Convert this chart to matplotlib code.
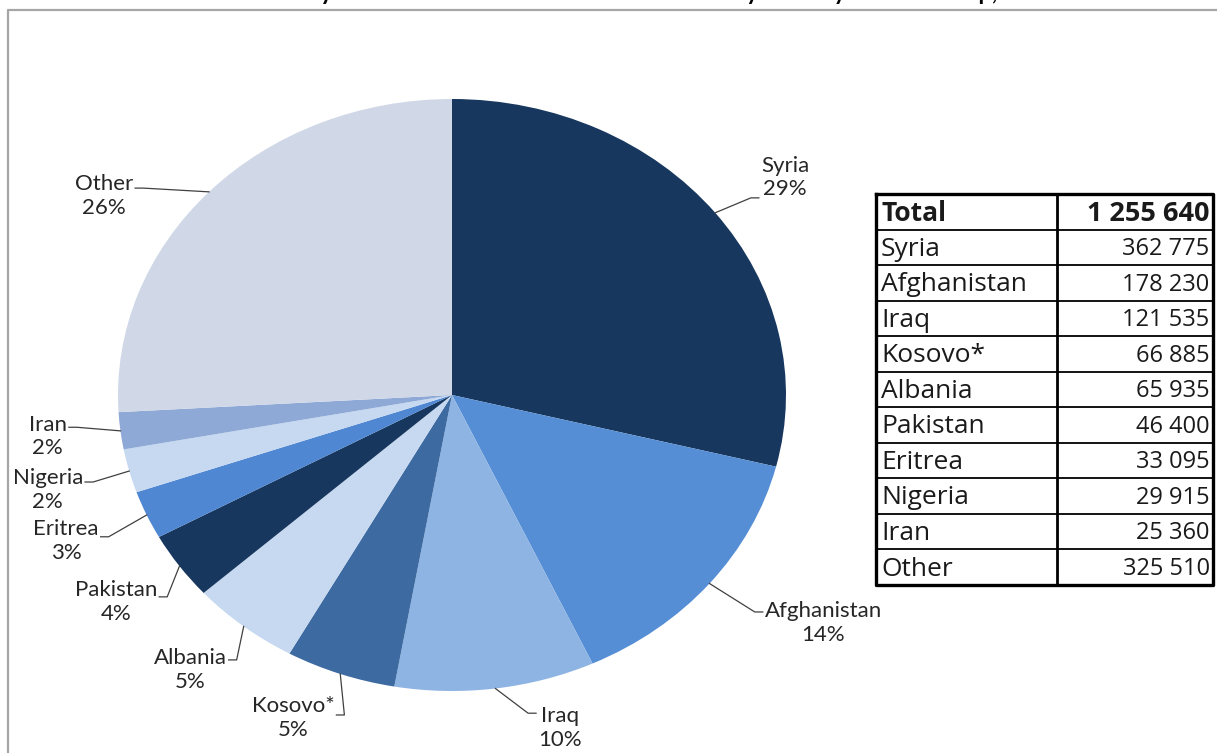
import numpy as np
import matplotlib
matplotlib.use('Agg')
import matplotlib.pyplot as plt
from matplotlib.lines import Line2D

# applicants by country of citizenship
countries = ['Syria', 'Afghanistan', 'Iraq', 'Kosovo*', 'Albania',
             'Pakistan', 'Eritrea', 'Nigeria', 'Iran', 'Other']
applicants = [362775, 178230, 121535, 66885, 65935,
              46400, 33095, 29915, 25360, 325510]
total = 1255640

colors = ['#17375e', '#558ed5', '#8eb4e3', '#3d6aa1', '#c6d9f1',
          '#17375e', '#4f87d3', '#c6d9f1', '#8ea9d6', '#d0d8e7']

# label block centres (pie units) and vertical offset of the leader end
label_pos = [(0.997, 0.736, -0.07), (1.112, -0.770, 0.037), (0.323, -1.125, 0.05),
             (-0.476, -1.091, 0.01), (-0.784, -0.929, 0.034), (-1.006, -0.699, 0.017),
             (-1.156, -0.493, 0.014), (-1.210, -0.321, 0.027), (-1.210, -0.139, 0.03),
             (-1.042, 0.672, 0.027)]

W, H = 1217, 753
fig = plt.figure(figsize=(W / 100, H / 100), dpi=100)

# pie centre at (452, 395) px, radii 334 x 296 px
cx, cy, rx, ry = 452, 395, 334, 296
ax = fig.add_axes([0, 0, 1, 1])
wedges, _ = ax.pie(applicants, colors=colors, startangle=90, counterclock=False,
                   radius=1, center=(0, 0))
ax.set_xlim(-cx / rx, (W - cx) / rx)
ax.set_ylim(-(H - cy) / ry, cy / ry)
ax.set_aspect('auto')
ax.axis('off')

label_font = dict(family=['Lato', 'DejaVu Sans'], fontsize=16, color='#262626')
shares = np.array(applicants) / total * 100
texts = []
for name, pct, (lx, ly, dy) in zip(countries, shares, label_pos):
    t = ax.text(lx, ly, f'{name}\n{pct:.0f}%', ha='center', va='center',
                linespacing=1.2, **label_font)
    texts.append(t)

fig.canvas.draw()
renderer = fig.canvas.get_renderer()
inv = ax.transData.inverted()
px = 1 / rx
for w, t, (lx, ly, dy) in zip(wedges, texts, label_pos):
    mid = np.deg2rad((w.theta1 + w.theta2) / 2)
    ax_, ay_ = np.cos(mid), np.sin(mid)
    bb = t.get_window_extent(renderer)
    (x0, _), (x1, _) = inv.transform([[bb.x0, bb.y0], [bb.x1, bb.y1]])
    yl = ly + dy
    if lx < ax_:
        end = x1 + 2 * px
        elbow = end + 8 * px
    else:
        end = x0 - 2 * px
        elbow = end - 8 * px
    ax.plot([ax_, elbow, end], [ay_, yl, yl], color='#404040', lw=0.9)

# outer frame
fig.add_artist(Line2D([8 / W, 8 / W, 1], [0, 1 - 10 / H, 1 - 10 / H],
                      transform=fig.transFigure, color='#a6a6a6', lw=1.6))

# title, cut by the top edge of the image
fig.text(0.514, 1 + 0.5 / H,
         'First time asylum seekers in the EU Member States by country of citizenship, 2015',
         ha='center', va='baseline', fontsize=17, fontweight='bold',
         family=['Lato', 'DejaVu Sans'], color='black')

# table of totals
tl, tr, tt, tb = 876, 1213, 194, 585
tax = fig.add_axes([tl / W, (H - tb) / H, (tr - tl) / W, (tb - tt) / H])
rows = ['Total'] + countries
vals = [total] + applicants
n = len(rows)
tax.set_xlim(0, 1)
tax.set_ylim(n, 0)
tax.axis('off')
split = (1057 - tl) / (tr - tl)
for i in range(1, n):
    tax.plot([0, 1], [i, i], color='black', lw=1.3)
tax.plot([split, split], [0, n], color='black', lw=2)
tax.plot([0, 1, 1, 0, 0], [0, 0, n, n, 0], color='black', lw=2.4, clip_on=False)
tfont = ['Open Sans', 'DejaVu Sans']
for i, (r, v) in enumerate(zip(rows, vals)):
    s = f'{v:,}'.replace(',', ' ')
    if i == 0:
        tax.text(0.015, i + 0.55, r, ha='left', va='center', fontsize=19,
                 fontweight='bold', family=tfont, color='#1a1a1a')
        tax.text(0.99, i + 0.55, s, ha='right', va='center', fontsize=19.5,
                 fontweight='bold', family=tfont, color='#1a1a1a')
    else:
        tax.text(0.015, i + 0.55, r, ha='left', va='center', fontsize=19,
                 family=tfont, color='#1a1a1a')
        tax.text(0.99, i + 0.55, s, ha='right', va='center', fontsize=17,
                 family=tfont, color='#1a1a1a')

fig.savefig('out.png', dpi=100)
